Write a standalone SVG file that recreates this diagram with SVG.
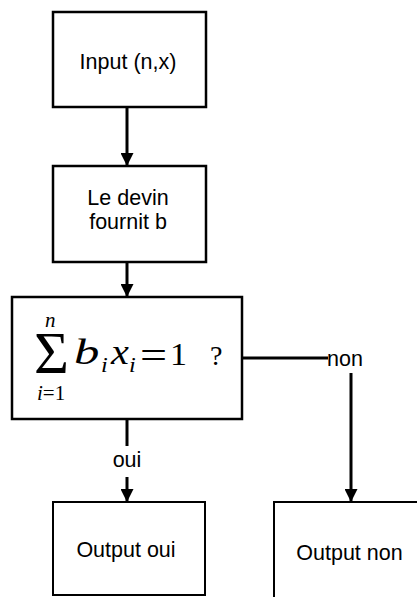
<svg xmlns="http://www.w3.org/2000/svg" width="417" height="597" viewBox="0 0 417 597">
<defs>
<style>
.box{fill:#fff;stroke:#000;stroke-width:2.5}
.obox{fill:#fff;stroke:#000;stroke-width:2}
.lbl{font-family:"Liberation Sans",Arial,sans-serif;font-size:21.5px;fill:#000}
.m{font-family:"Liberation Serif","Times New Roman",serif;fill:#000}
.mi{font-style:italic}
.conn{fill:none;stroke:#000;stroke-width:3}
</style>
<marker id="ah" viewBox="0 0 10 10" refX="10" refY="5" markerWidth="13" markerHeight="13" markerUnits="userSpaceOnUse" orient="auto">
<path d="M0,0 L10,5 L0,10 Z" fill="#000"/>
</marker>
</defs>
<rect width="417" height="597" fill="#fff"/>
<g id="connectors">
<line class="conn" x1="127" y1="107" x2="127" y2="166" marker-end="url(#ah)"/>
<line class="conn" x1="127" y1="262" x2="127" y2="297" marker-end="url(#ah)"/>
<line class="conn" x1="127" y1="419" x2="127" y2="446"/>
<line class="conn" x1="127" y1="477" x2="127" y2="502" marker-end="url(#ah)"/>
<line class="conn" x1="242" y1="358" x2="328" y2="358"/>
<line class="conn" x1="351" y1="373" x2="351" y2="502" marker-end="url(#ah)"/>
<text class="lbl" x="127" y="467" text-anchor="middle">oui</text>
<text class="lbl" x="327" y="366">non</text>
</g>
<g id="input">
<rect class="box" x="53" y="12" width="153" height="95"/>
<text class="lbl" x="128" y="69" text-anchor="middle">Input (n,x)</text>
</g>
<g id="devin">
<rect class="box" x="53" y="166" width="153" height="96"/>
<text class="lbl" x="128" y="205" text-anchor="middle">Le devin</text>
<text class="lbl" x="128" y="229" text-anchor="middle">fournit b</text>
</g>
<g id="test">
<rect class="box" x="12" y="297" width="230" height="122"/>
<text class="m" x="34" y="373" font-size="60">Σ</text>
<text class="m mi" x="45" y="327" font-size="21">n</text>
<text class="m" x="37" y="400" font-size="21"><tspan class="mi">i</tspan>=1</text>
<text class="m mi" font-size="35" transform="translate(74,364) scale(1.45,1)">b</text>
<text class="m mi" font-size="22" transform="translate(101,372) scale(1.1,1)">i</text>
<text class="m mi" font-size="35" transform="translate(111,364) scale(1.15,1)">x</text>
<text class="m mi" font-size="22" transform="translate(129,372) scale(1.1,1)">i</text>
<text class="m" font-size="40" transform="translate(140,369) scale(1.2,1)">=</text>
<text class="m" font-size="31" transform="translate(170,365) scale(1.1,1)">1</text>
<text class="m" font-size="28" transform="translate(210,365)">?</text>
</g>
<g id="out-oui">
<rect class="obox" x="53" y="502" width="152" height="93"/>
<text class="lbl" x="126" y="557" text-anchor="middle">Output oui</text>
</g>
<g id="out-non">
<rect class="obox" x="274" y="502" width="160" height="110"/>
<text class="lbl" x="349.5" y="560" text-anchor="middle">Output non</text>
</g>
</svg>
